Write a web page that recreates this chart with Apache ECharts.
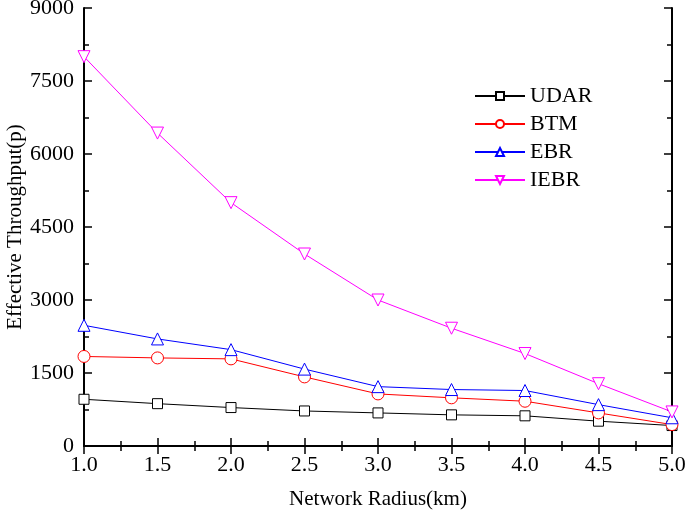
<!DOCTYPE html>
<html><head><meta charset="utf-8">
<script src="https://cdn.jsdelivr.net/npm/echarts@6/dist/echarts.min.js"></script>
<style>html,body{margin:0;padding:0;background:#fff}#c{width:685px;height:515px}</style>
</head><body><div id="c"></div>
<script>
const radius = [1.0, 1.5, 2.0, 2.5, 3.0, 3.5, 4.0, 4.5, 5.0];
const udar = [960, 870, 790, 720, 680, 640, 620, 510, 420];
const btm  = [1840, 1810, 1790, 1420, 1070, 990, 920, 680, 440];
const ebr  = [2480, 2200, 1980, 1580, 1220, 1160, 1140, 850, 580];
const iebr = [8000, 6430, 5000, 3945, 3000, 2420, 1900, 1280, 700];
const seriesNames = ['UDAR', 'BTM', 'EBR', 'IEBR'];

const font = 'Liberation Serif';
const pair = a => radius.map((x, i) => [x, a[i]]);
function mk(name, data, color, symbol, size) {
  return {
    name, type: 'line', data: pair(data), symbol, symbolSize: size,
    lineStyle: { color, width: 1 },
    itemStyle: { color: '#fff', borderColor: color, borderWidth: 1 },
    emphasis: { disabled: true }
  };
}
const axisCommon = {
  axisLine: { show: true, lineStyle: { color: '#000', width: 2 } },
  axisTick: { show: true, inside: true, length: 8, lineStyle: { color: '#000', width: 1.5 } },
  minorTick: { show: true, splitNumber: 2, length: 5, lineStyle: { color: '#000', width: 1.5 } },
  splitLine: { show: false }
};
const chart = echarts.init(document.getElementById('c'));
chart.setOption({
  animation: false,
  backgroundColor: '#fff',
  grid: { left: 84, right: 13, top: 8, bottom: 69, outerBoundsMode: 'none', containLabel: false },
  legend: {
    data: seriesNames, orient: 'vertical', left: 469, top: 80,
    itemWidth: 50, itemHeight: 10, itemGap: 6,
    textStyle: { fontFamily: font, fontSize: 22, color: '#000' }
  },
  xAxis: [
    Object.assign({
      type: 'value', min: 1, max: 5, interval: 0.5,
      name: 'Network Radius(km)', nameLocation: 'middle', nameGap: 43,
      nameMoveOverlap: false,
      nameTextStyle: { fontFamily: font, fontSize: 21, color: '#000' },
      axisLabel: { fontFamily: font, fontSize: 22, color: '#000', margin: 8,
        formatter: v => v.toFixed(1) }
    }, axisCommon),
    Object.assign({
      type: 'value', min: 1, max: 5, interval: 0.5, position: 'top',
      axisLabel: { show: false }
    }, axisCommon)
  ],
  yAxis: [
    Object.assign({
      type: 'value', min: 0, max: 9000, interval: 1500,
      name: 'Effective Throughput(p)', nameLocation: 'middle', nameGap: 58,
      nameMoveOverlap: false,
      nameTextStyle: { fontFamily: font, fontSize: 21, color: '#000' },
      axisLabel: { fontFamily: font, fontSize: 22, color: '#000', margin: 10,
        formatter: v => String(v) }
    }, axisCommon),
    Object.assign({
      type: 'value', min: 0, max: 9000, interval: 1500, position: 'right',
      axisLabel: { show: false }
    }, axisCommon)
  ],
  series: [
    mk('UDAR', udar, '#000000', 'rect', 10),
    mk('BTM', btm, '#ff0000', 'circle', 12),
    mk('EBR', ebr, '#0000ff', 'triangle', 12),
    mk('IEBR', iebr, '#ff00ff', 'path://M0,0 L10,0 L5,9 Z', 12)
  ]
});
</script></body></html>
